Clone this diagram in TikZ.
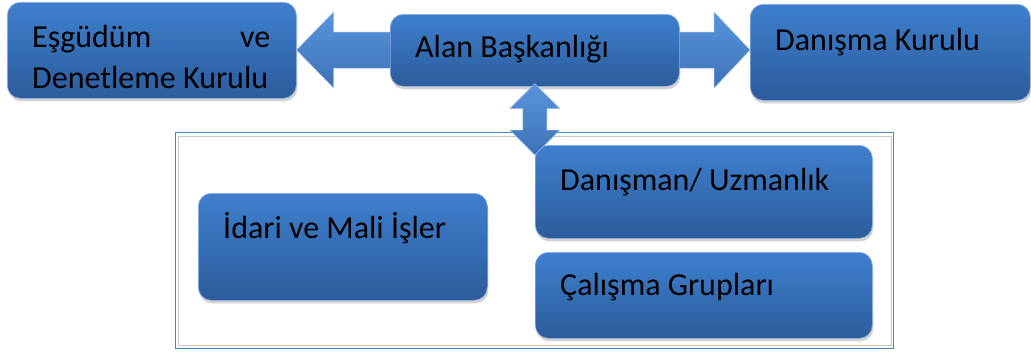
\documentclass[tikz,border=0pt]{standalone}
\usepackage{fontspec}
\setmainfont{Carlito}
\usetikzlibrary{calc,shadows}
\definecolor{boxtop}{RGB}{62,127,205}
\definecolor{boxbot}{RGB}{44,92,156}
\definecolor{arrtop}{RGB}{88,148,218}
\definecolor{arrbot}{RGB}{62,114,184}
\definecolor{framec}{RGB}{79,129,189}
\begin{document}
\begin{tikzpicture}[x=1pt,y=-1pt,
 box/.style={rounded corners=13pt, top color=boxtop, bottom color=boxbot, draw=boxtop!60!white, line width=0.6pt,
   drop shadow={shadow xshift=1pt, shadow yshift=-3pt, opacity=0.35}, anchor=north west, inner sep=0pt},
 lbl/.style={font=\fontsize{32}{41}\selectfont, text=black, anchor=base west, inner sep=0pt},
 blockarrow/.style={top color=arrtop, bottom color=arrbot, draw=arrtop!60!white, line width=0.5pt, line join=miter}]
\useasboundingbox[fill=white] (0,0) rectangle (1031,351);

% boxes (top row)
\node[box, minimum width=289pt, minimum height=96pt] (eg) at (7,2) {};
\node[box, minimum width=280pt, minimum height=96pt] (dk) at (750,4) {};

% horizontal block arrows
\coordinate (la) at (390,50);
\coordinate (ra) at (679,50);
\draw[blockarrow] (eg.east |- la) -- ++(37,-38) -- ++(0,20) -- ($(la)+(10,-18)$)
  -- ($(la)+(10,18)$) -- ($(eg.east |- la)+(37,18)$) -- ++(0,20) -- cycle;
\draw[blockarrow] (dk.west |- ra) -- ++(-36,-38) -- ++(0,20) -- ($(ra)+(-10,-18)$)
  -- ($(ra)+(-10,18)$) -- ($(dk.west |- ra)+(-36,18)$) -- ++(0,20) -- cycle;

\node[box, minimum width=289pt, minimum height=72pt] (alan) at (390,14) {};

% container
\node[draw=framec, line width=1.2pt, minimum width=718pt, minimum height=216pt, anchor=north west, inner sep=0pt] (grp) at (175,132) {};
\draw[black!22, line width=0.8pt] ($(grp.north west)+(3,4)$) rectangle ($(grp.south east)+(-3,-4)$);

% lower boxes
\node[box, minimum width=289pt, minimum height=107pt] (idari) at (198,193) {};
\node[box, minimum width=337pt, minimum height=93pt] (dan) at (535,145) {};
\node[box, minimum width=337pt, minimum height=86pt] (cal) at (535,252) {};

% vertical double arrow
\coordinate (vt) at ($(alan.south)+(0,-3)$);
\coordinate (vb) at ($(alan.south |- dan.north)+(0,10)$);
\draw[blockarrow] (vt) -- ++(25,25) -- ++(-13,0) -- ($(vb)+(12,-25)$) -- ++(13,0) -- (vb)
  -- ++(-25,-25) -- ++(13,0) -- ($(vt)+(-12,25)$) -- ++(-13,0) -- cycle;

% labels
\node[lbl, align=left] (egt) at ($(eg.north west)+(25,86)$) {\makebox[238pt][s]{Eşgüdüm\hfill ve}\\Denetleme Kurulu};
\node[lbl] (alant) at ($(alan.north west)+(25,43)$) {Alan Başkanlığı};
\node[lbl] (dkt) at ($(dk.north west)+(25,46)$) {Danışma Kurulu};
\node[lbl] (idarit) at ($(idari.north west)+(25,45)$) {İdari ve Mali İşler};
\node[lbl] (dant) at ($(dan.north west)+(25,45)$) {Danışman/ Uzmanlık};
\node[lbl] (calt) at ($(cal.north west)+(25,43)$) {Çalışma Grupları};
\end{tikzpicture}
\end{document}
